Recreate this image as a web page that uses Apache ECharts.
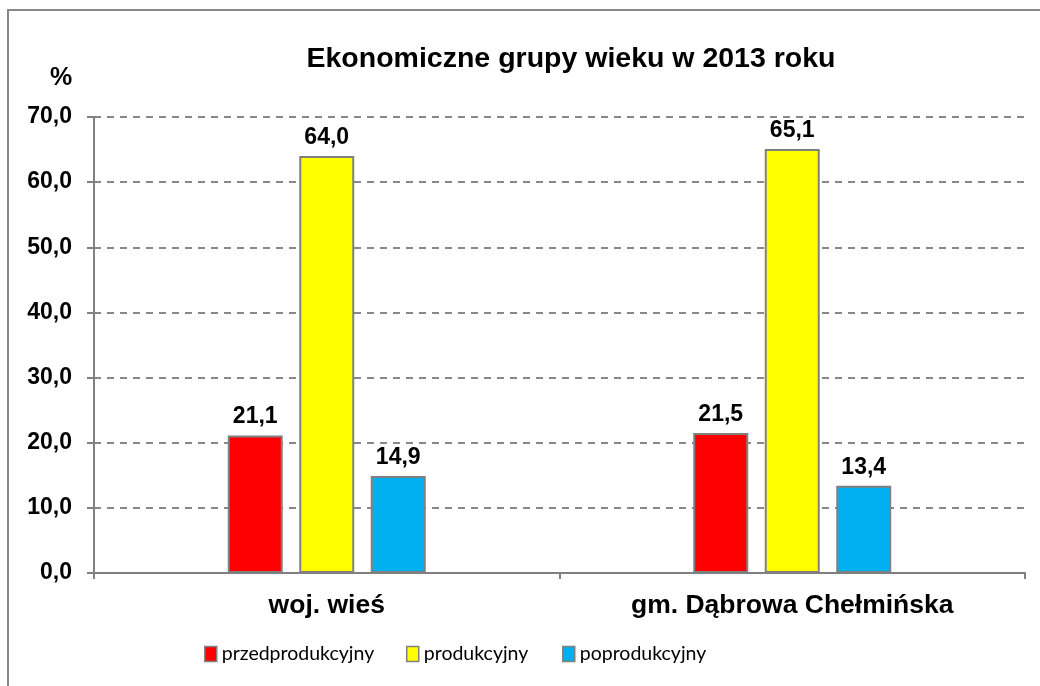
<!DOCTYPE html>
<html>
<head>
<meta charset="UTF-8">
<title>Ekonomiczne grupy wieku</title>
<script type="text/javascript" src="https://cdn.jsdelivr.net/npm/echarts@6/dist/echarts.min.js"></script>
<style>
html,body{margin:0;padding:0;background:#fff;}
</style>
</head>
<body>

<div id="box" style="width:1040px;height:686px;"></div>

<script type="text/javascript">

// dane
var categories = ['woj. wieś', 'gm. Dąbrowa Chełmińska'];
var seriesNames = ['przedprodukcyjny', 'produkcyjny', 'poprodukcyjny'];
var przedprodukcyjny = [21.1, 21.5];
var produkcyjny = [64.0, 65.1];
var poprodukcyjny = [14.9, 13.4];
var colors = ['#ff0000', '#ffff00', '#00b0f0'];
var legendLeft = [204, 406, 562];

var fmt = function (v) { return Number(v).toFixed(1).replace('.', ','); };

var mychart = echarts.init(document.getElementById('box'));

function bar(name, data, color) {
  return {
    name: name,
    type: 'bar',
    data: data,
    barWidth: 55,
    barGap: '30%',
    itemStyle: { color: color, borderColor: '#808080', borderWidth: 2 },
    label: {
      show: true,
      position: 'top',
      distance: 7,
      formatter: function (p) { return fmt(p.value); },
      color: '#000',
      fontFamily: 'Liberation Sans',
      fontWeight: 'bold',
      fontSize: 23
    }
  };
}

// legenda - osobno dla kazdej serii
var legends = seriesNames.map(function (n, i) {
  return {
    top: 644,
    left: legendLeft[i],
    padding: 0,
    itemWidth: 12,
    itemHeight: 15,
    icon: 'rect',
    data: [n],
    textStyle: { fontFamily: 'Lato', fontSize: 19.5, color: '#000' },
    itemStyle: { borderColor: '#808080', borderWidth: 1.5 }
  };
});

var option = {
  animation: false,
  title: {
    text: 'Ekonomiczne grupy wieku w 2013 roku',
    left: 566,
    textAlign: 'center',
    top: 40,
    textStyle: { fontFamily: 'Liberation Sans', fontWeight: 'bold', fontSize: 28.5, color: '#000' }
  },
  graphic: [
    { type: 'rect', shape: { x: 8, y: 10, width: 1100, height: 800 },
      style: { fill: 'none', stroke: '#888', lineWidth: 2 }, silent: true },
    { type: 'text', left: 50, top: 66,
      style: { text: '%', fill: '#000', font: 'bold 25px "Liberation Sans"' } }
  ],
  grid: { left: 94, right: 15, top: 117, bottom: 113, containLabel: false },
  legend: legends,
  xAxis: {
    type: 'category',
    data: categories,
    axisLine: { lineStyle: { color: '#808080', width: 2 } },
    axisTick: { show: true, length: 6, lineStyle: { color: '#808080', width: 2 } },
    axisLabel: { margin: 19, color: '#000', fontFamily: 'Liberation Sans', fontWeight: 'bold', fontSize: 26.5 }
  },
  yAxis: {
    type: 'value',
    min: 0,
    max: 70,
    interval: 10,
    axisLine: { show: true, lineStyle: { color: '#808080', width: 2 } },
    axisTick: { show: true, length: 7, lineStyle: { color: '#808080', width: 2 } },
    axisLabel: { margin: 22, color: '#000', fontFamily: 'Liberation Sans', fontWeight: 'bold', fontSize: 23, formatter: fmt },
    splitLine: { lineStyle: { color: '#888', type: [7, 6], width: 2 } }
  },
  series: [
    bar(seriesNames[0], przedprodukcyjny, colors[0]),
    bar(seriesNames[1], produkcyjny, colors[1]),
    bar(seriesNames[2], poprodukcyjny, colors[2])
  ]
};

mychart.setOption(option);
</script>
</body>
</html>
